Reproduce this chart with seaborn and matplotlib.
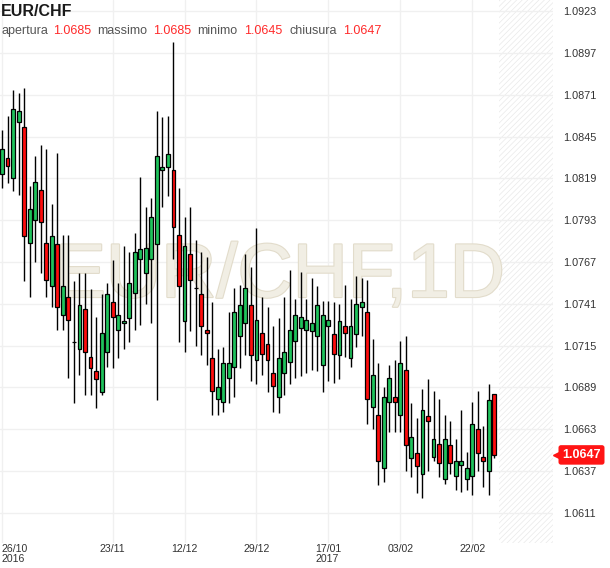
import numpy as np
import pandas as pd
import matplotlib
matplotlib.use("Agg")
import matplotlib.pyplot as plt
import matplotlib.transforms as mtransforms
from matplotlib import patheffects as pe
import seaborn as sns

# ---------------- data ----------------
opens = [1.0822, 1.0832, 1.0819, 1.0854, 1.0851, 1.0779, 1.0793, 1.0812, 1.0779, 1.0752,
         1.0778, 1.0734, 1.0745, 1.0717, 1.0713, 1.0738, 1.0708, 1.0699, 1.0686, 1.0711,
         1.0742, 1.0725, 1.0729, 1.0732, 1.0748, 1.0769, 1.0760, 1.0769, 1.0778, 1.0824,
         1.0826, 1.0824, 1.0784, 1.0730, 1.0772, 1.0751, 1.0747, 1.0725, 1.0707, 1.0682,
         1.0680, 1.0695, 1.0702, 1.0721, 1.0729, 1.0740, 1.0706, 1.0723, 1.0716, 1.0698,
         1.0683, 1.0698, 1.0705, 1.0718, 1.0726, 1.0725, 1.0724, 1.0721, 1.0703, 1.0727,
         1.0722, 1.0709, 1.0727, 1.0707, 1.0722, 1.0739, 1.0736, 1.0677, 1.0672, 1.0639,
         1.0680, 1.0683, 1.0672, 1.0700, 1.0645, 1.0648, 1.0635, 1.0671, 1.0646, 1.0654,
         1.0632, 1.0653, 1.0634, 1.0641, 1.0632, 1.0634, 1.0663, 1.0646, 1.0637, 1.0685]
highs = [1.0849, 1.0858, 1.0874, 1.0872, 1.0875, 1.0814, 1.0833, 1.0840, 1.0837, 1.0803,
         1.0835, 1.0784, 1.0784, 1.0755, 1.0760, 1.0760, 1.0750, 1.0733, 1.0747, 1.0754,
         1.0768, 1.0754, 1.0777, 1.0773, 1.0785, 1.0820, 1.0801, 1.0807, 1.0861, 1.0857,
         1.0858, 1.0904, 1.0813, 1.0795, 1.0801, 1.0781, 1.0773, 1.0770, 1.0742, 1.0713,
         1.0714, 1.0736, 1.0751, 1.0753, 1.0772, 1.0764, 1.0788, 1.0745, 1.0739, 1.0727,
         1.0732, 1.0745, 1.0762, 1.0744, 1.0761, 1.0744, 1.0757, 1.0752, 1.0743, 1.0743,
         1.0742, 1.0741, 1.0753, 1.0744, 1.0758, 1.0757, 1.0756, 1.0719, 1.0704, 1.0689,
         1.0703, 1.0706, 1.0718, 1.0721, 1.0679, 1.0670, 1.0688, 1.0694, 1.0687, 1.0682,
         1.0672, 1.0668, 1.0657, 1.0675, 1.0649, 1.0680, 1.0687, 1.0665, 1.0691, 1.0685]
lows = [1.0813, 1.0816, 1.0811, 1.0809, 1.0755, 1.0745, 1.0767, 1.0760, 1.0745, 1.0739,
        1.0725, 1.0725, 1.0695, 1.0679, 1.0697, 1.0684, 1.0684, 1.0676, 1.0684, 1.0702,
        1.0701, 1.0707, 1.0713, 1.0717, 1.0725, 1.0728, 1.0741, 1.0729, 1.0681, 1.0801,
        1.0808, 1.0769, 1.0717, 1.0711, 1.0724, 1.0715, 1.0709, 1.0703, 1.0672, 1.0672,
        1.0674, 1.0679, 1.0683, 1.0701, 1.0709, 1.0693, 1.0691, 1.0697, 1.0686, 1.0674,
        1.0673, 1.0684, 1.0691, 1.0695, 1.0696, 1.0698, 1.0700, 1.0699, 1.0686, 1.0693,
        1.0692, 1.0694, 1.0708, 1.0702, 1.0714, 1.0721, 1.0666, 1.0663, 1.0628, 1.0630,
        1.0661, 1.0661, 1.0661, 1.0637, 1.0633, 1.0623, 1.0620, 1.0637, 1.0643, 1.0633,
        1.0629, 1.0635, 1.0625, 1.0624, 1.0625, 1.0622, 1.0637, 1.0627, 1.0622, 1.0645]
closes = [1.0837, 1.0827, 1.0862, 1.0861, 1.0783, 1.0800, 1.0817, 1.0792, 1.0756, 1.0783,
          1.0739, 1.0752, 1.0731, 1.0717, 1.0740, 1.0711, 1.0701, 1.0694, 1.0723, 1.0747,
          1.0733, 1.0734, 1.0730, 1.0754, 1.0773, 1.0775, 1.0776, 1.0795, 1.0833, 1.0826,
          1.0834, 1.0789, 1.0752, 1.0777, 1.0756, 1.0751, 1.0727, 1.0723, 1.0687, 1.0689,
          1.0704, 1.0704, 1.0736, 1.0740, 1.0751, 1.0709, 1.0731, 1.0710, 1.0706, 1.0690,
          1.0707, 1.0711, 1.0725, 1.0734, 1.0733, 1.0731, 1.0729, 1.0740, 1.0734, 1.0731,
          1.0710, 1.0730, 1.0723, 1.0727, 1.0741, 1.0742, 1.0682, 1.0697, 1.0643, 1.0683,
          1.0695, 1.0680, 1.0704, 1.0653, 1.0658, 1.0640, 1.0675, 1.0668, 1.0657, 1.0642,
          1.0657, 1.0642, 1.0643, 1.0643, 1.0639, 1.0666, 1.0648, 1.0643, 1.0681, 1.0647]

date_tick_pos = [0, 20, 33, 46, 59, 72, 85]
date_tick_labels = ["26/10\n2016", "23/11", "12/12", "29/12", "17/01\n2017", "03/02", "22/02"]
price_ticks = [1.0923, 1.0897, 1.0871, 1.0845, 1.0819, 1.0793, 1.0767,
               1.0741, 1.0715, 1.0689, 1.0663, 1.0637, 1.0611]

title = "EUR/CHF"
header_labels = ["apertura", "massimo", "minimo", "chiusura"]
header_values = ["1.0685", "1.0685", "1.0645", "1.0647"]
watermark = "EUR/CHF,1D"

# ---------------- styling ----------------
sns.set_style("white")
plt.rcParams['font.family'] = ['Liberation Sans', 'DejaVu Sans']
plt.rcParams['hatch.linewidth'] = 0.5

UP = '#1fc35c'
DOWN = '#ff0d0d'

df = pd.DataFrame({'open': opens, 'high': highs, 'low': lows, 'close': closes})
df['x'] = np.arange(len(df))
df['up'] = df['close'] >= df['open']
df['bottom'] = df[['open', 'close']].min(axis=1)
df['height'] = (df['close'] - df['open']).abs().clip(lower=0.00001)

W, H = 610, 568
PLOT_H = 543
fig = plt.figure(figsize=(W / 100, H / 100), dpi=100)
ax = fig.add_axes([0, (H - PLOT_H) / H, 553 / W, PLOT_H / H])

xmin, xmax = -0.36, 99.6
ax.set_xlim(xmin, xmax)
ax.set_ylim(1.05922, 1.0930)

# future (hatched) area
ax.axvspan(89.9, xmax, facecolor='white', edgecolor='#e9e9e9', hatch='//////', lw=0, zorder=0.4)

# watermark
ax.text(0.506, 1 - 297 / PLOT_H, watermark, transform=ax.transAxes, ha='center', va='baseline',
        fontsize=55, color='#f1eee4', zorder=0.6,
        path_effects=[pe.withStroke(linewidth=1.6, foreground='#e2dccb')])

# wicks + bodies
ax.vlines(df['x'], df['low'], df['high'], color='black', lw=1.0, zorder=2)
colors = np.where(df['up'], UP, DOWN)
ax.bar(df['x'], df['height'], bottom=df['bottom'], width=0.7, color=colors,
       edgecolor='black', linewidth=0.9, zorder=3)

# axes / grid
for s in ax.spines.values():
    s.set_visible(False)
ax.set_yticks(price_ticks)
ax.set_yticklabels([f"{v:.4f}" for v in price_ticks])
ax.yaxis.tick_right()
ax.set_xticks(date_tick_pos)
ax.set_xticklabels(date_tick_labels)
ax.grid(True, color='#f0f0f0', lw=1.0, zorder=0)
ax.set_axisbelow(True)
ax.tick_params(axis='y', length=0, pad=7, labelsize=7.8, labelcolor='#333333')
ax.tick_params(axis='x', length=0, pad=1, labelsize=7.6, labelcolor='#333333')
for i, lab in enumerate(ax.get_xticklabels()):
    lab.set_multialignment('left')
    lab.set_linespacing(0.95)
    if i == 0:
        lab.set_horizontalalignment('left')
        lab.set_x(xmin)
ax.set_xlabel('')
ax.set_ylabel('')

# header
fig.text(1 / W, 1 - 11 / H, title, ha='left', va='center', fontsize=11.5,
         fontweight='bold', color='#1a1a1a')
label_x = [1, 97, 197, 289]
value_x = [53, 153, 244, 343]
for lx, vx, lab, val in zip(label_x, value_x, header_labels, header_values):
    fig.text(lx / W, 1 - 31 / H, lab, ha='left', va='center', fontsize=9, color='#555555')
    fig.text(vx / W, 1 - 31 / H, val, ha='left', va='center', fontsize=9, color='#ff2a2a')

# last price marker on the price axis
trans = mtransforms.blended_transform_factory(fig.transFigure, ax.transData)
last = closes[-1]
fig_x = 581.5 / W
ax.text(fig_x, last, f"{last:.4f}", transform=trans, ha='center', va='center',
        fontsize=9, fontweight='bold', color='white', zorder=10, clip_on=False,
        bbox=dict(boxstyle='round,pad=0.3,rounding_size=0.2', fc='#ff1414', ec='none'))
ax.plot([556 / W], [last], transform=trans, marker='<', ms=4, color='#ff1414',
        clip_on=False, zorder=10)

fig.savefig('out.png', dpi=100, facecolor='white')
